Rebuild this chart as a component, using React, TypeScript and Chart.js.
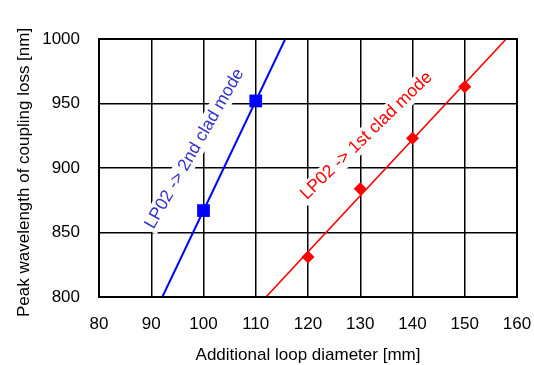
import React, { useEffect, useRef } from 'react';
import { Chart, registerables } from 'chart.js';

Chart.register(...registerables);

// ---- data ----
const X_MIN = 80;
const X_MAX = 160;
const X_STEP = 10;
const Y_MIN = 800;
const Y_MAX = 1000;
const Y_STEP = 50;

const secondCladX = [100, 110];
const secondCladY = [867, 952];
const firstCladX = [120, 130, 140, 150];
const firstCladY = [831, 884, 923, 963];

const xTitle = 'Additional loop diameter [mm]';
const yTitle = 'Peak wavelength of coupling loss [nm]';
const secondLabel = 'LP02 -> 2nd clad mode';
const firstLabel = 'LP02 -> 1st clad mode';

const FONT = '"Liberation Sans", Arial, sans-serif';
const BLUE = '#0000ff';
const RED = '#ff0000';

function fitLine(xs: number[], ys: number[]) {
  const n = xs.length;
  const mx = xs.reduce((a, b) => a + b, 0) / n;
  const my = ys.reduce((a, b) => a + b, 0) / n;
  let sxy = 0;
  let sxx = 0;
  for (let i = 0; i < n; i++) {
    sxy += (xs[i] - mx) * (ys[i] - my);
    sxx += (xs[i] - mx) * (xs[i] - mx);
  }
  const m = sxy / sxx;
  const b = my - m * mx;
  return [
    { x: (Y_MIN - b) / m, y: Y_MIN },
    { x: (Y_MAX - b) / m, y: Y_MAX },
  ];
}

const toPts = (xs: number[], ys: number[]) => xs.map((x, i) => ({ x, y: ys[i] }));

const annotations = [
  { text: secondLabel, x: 98.3, y: 915, angle: -60, color: '#3333cc' },
  { text: firstLabel, x: 131.2, y: 925, angle: -44, color: RED },
];

const decorPlugin = {
  id: 'decor',
  beforeDatasetsDraw(chart: any) {
    const { ctx, scales } = chart;
    ctx.save();
    ctx.font = `17.5px ${FONT}`;
    for (const a of annotations) {
      const px = scales.x.getPixelForValue(a.x);
      const py = scales.y.getPixelForValue(a.y);
      ctx.save();
      ctx.translate(px, py);
      ctx.rotate((a.angle * Math.PI) / 180);
      const w = ctx.measureText(a.text).width;
      ctx.fillStyle = '#ffffff';
      ctx.fillRect(-w / 2 - 3, -10, w + 6, 20);
      ctx.fillStyle = a.color;
      ctx.textAlign = 'center';
      ctx.textBaseline = 'middle';
      ctx.fillText(a.text, 0, 0);
      ctx.restore();
    }
    ctx.restore();
  },
  afterDatasetsDraw(chart: any) {
    const { ctx, chartArea } = chart;
    ctx.save();
    ctx.strokeStyle = '#000000';
    ctx.lineWidth = 2;
    ctx.strokeRect(chartArea.left, chartArea.top, chartArea.right - chartArea.left, chartArea.bottom - chartArea.top);
    ctx.restore();
  },
  afterDraw(chart: any) {
    const { ctx, chartArea } = chart;
    ctx.save();
    ctx.fillStyle = '#000000';
    ctx.font = `17px ${FONT}`;
    ctx.textAlign = 'center';
    ctx.textBaseline = 'alphabetic';
    ctx.fillText(xTitle, (chartArea.left + chartArea.right) / 2, 360);
    ctx.translate(29.3, 317);
    ctx.rotate(-Math.PI / 2);
    ctx.textAlign = 'left';
    ctx.fillText(yTitle, 0, 0);
    ctx.restore();
  },
};

export default function App() {
  const ref = useRef<HTMLCanvasElement>(null);

  useEffect(() => {
    if (!ref.current) return;
    const chart = new Chart(ref.current, {
      type: 'scatter',
      data: {
        datasets: [
          {
            label: 'fit 2nd',
            data: fitLine(secondCladX, secondCladY),
            showLine: true,
            borderColor: BLUE,
            borderWidth: 2,
            pointRadius: 0,
          },
          {
            label: 'fit 1st',
            data: fitLine(firstCladX, firstCladY),
            showLine: true,
            borderColor: RED,
            borderWidth: 1.6,
            pointRadius: 0,
          },
          {
            label: '2nd clad',
            data: toPts(secondCladX, secondCladY),
            pointStyle: 'rect',
            pointRadius: 9,
            backgroundColor: BLUE,
            borderColor: BLUE,
            borderWidth: 0,
          },
          {
            label: '1st clad',
            data: toPts(firstCladX, firstCladY),
            pointStyle: 'rectRot',
            pointRadius: 6.5,
            backgroundColor: RED,
            borderColor: RED,
            borderWidth: 0,
          },
        ],
      },
      options: {
        animation: false,
        responsive: false,
        layout: { padding: { top: 39, right: 17, left: 0, bottom: 0 } },
        plugins: { legend: { display: false }, tooltip: { enabled: false } },
        scales: {
          x: {
            type: 'linear',
            min: X_MIN,
            max: X_MAX,
            ticks: { stepSize: X_STEP, color: '#000', font: { family: FONT, size: 17 }, padding: 17, maxRotation: 0 },
            grid: { color: '#000', lineWidth: 1.5, drawTicks: false },
            border: { display: false },
            afterFit: (s: any) => { s.height = 68; s.paddingLeft = 0; s.paddingRight = 0; },
          },
          y: {
            type: 'linear',
            min: Y_MIN,
            max: Y_MAX,
            ticks: {
              stepSize: Y_STEP,
              color: '#000',
              font: { family: FONT, size: 17 },
              padding: 19,
              callback: (v: any) => String(v),
            },
            grid: { color: '#000', lineWidth: 1.5, drawTicks: false },
            border: { display: false },
            afterFit: (s: any) => { s.width = 99; s.paddingTop = 0; s.paddingBottom = 0; },
          },
        },
      },
      plugins: [decorPlugin],
    });
    return () => chart.destroy();
  }, []);

  return (
    <div style={{ position: 'absolute', left: 0, top: 0, width: 534, height: 365, background: '#fff' }}>
      <canvas ref={ref} width={534} height={365} style={{ display: 'block' }} />
    </div>
  );
}
